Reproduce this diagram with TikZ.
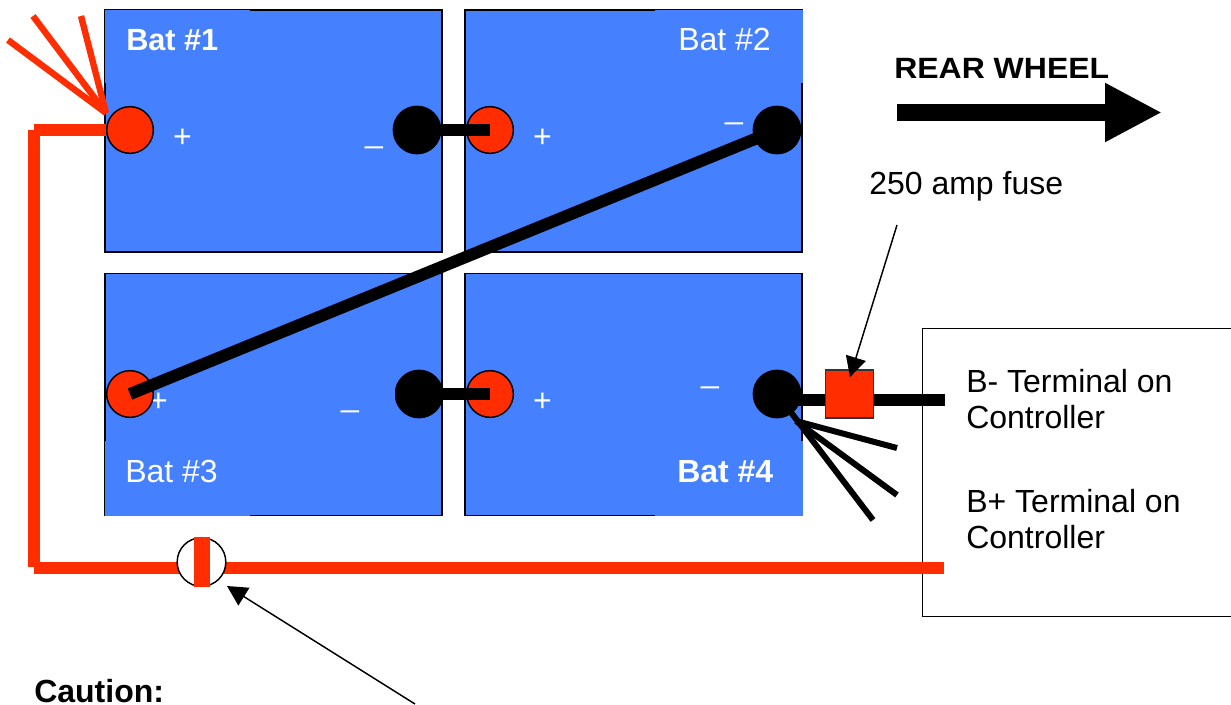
\documentclass[tikz,border=0pt]{standalone}
\usepackage{fontspec}
\setmainfont{Liberation Sans}
\usetikzlibrary{arrows.meta}
\definecolor{batblue}{RGB}{69,128,255}
\definecolor{wirered}{RGB}{255,45,0}
\tikzset{
  batbox/.style={draw=black,fill=batblue,line width=1.1pt,minimum width=252.75pt,minimum height=181.5pt,inner sep=0pt},
  posterm/.style={circle,draw=black,fill=wirered,line width=1.1pt,minimum size=35pt,inner sep=0pt},
  negterm/.style={circle,draw=black,fill=black,line width=1.1pt,minimum size=35.5pt,inner sep=0pt},
  redwire/.style={draw=wirered,line width=9pt},
  redfan/.style={draw=wirered,line width=4.8pt},
  blackwire/.style={draw=black,line width=9pt},
  blackfan/.style={draw=black,line width=4.5pt},
  thinarrow/.style={draw=black,line width=1.1pt,-{Triangle[length=15pt,width=15.5pt]}},
  lbl/.style={anchor=base west,inner sep=0pt,font=\fontsize{24}{27}\selectfont},
  batlbl/.style={lbl,text=white},
  signlbl/.style={anchor=center,inner sep=0pt,text=white,font=\fontsize{24}{27}\selectfont}
}
\begin{document}
\begin{tikzpicture}[x=.75pt,y=-.75pt]
\useasboundingbox (0,0) rectangle (1231,704);
\node[batbox] (bat1) at (273.5,131) {};
\node[batbox] (bat2) at (633.5,131) {};
\node[batbox] (bat3) at (273.5,394.5) {};
\node[batbox] (bat4) at (633.5,394.5) {};
\fill[batblue] (104.5,9.5) rectangle (250,83);
\fill[batblue] (655,9.5) rectangle (802.5,83);
\fill[batblue] (104.5,441) rectangle (250,515.5);
\fill[batblue] (655,441) rectangle (802.5,515.5);
\node[batlbl,font=\fontsize{23}{27}\selectfont\bfseries] (lab1) at (126,50) {Bat \#1};
\node[batlbl] (lab2) at (678,50) {Bat \#2};
\node[batlbl] (lab3) at (125,482) {Bat \#3};
\node[batlbl,font=\fontsize{24}{27}\selectfont\bfseries] (lab4) at (677,482) {Bat \#4};
\node[signlbl] (plus1) at (182.5,138) {+};
\node[signlbl] (plus2) at (542.5,138) {+};
\node[signlbl] (plus3) at (158.5,402) {+};
\node[signlbl] (plus4) at (542.5,402) {+};
\node[signlbl] (minus1) at (374,146) {\symbol{95}};
\node[signlbl] (minus2) at (734,122) {\symbol{95}};
\node[signlbl] (minus3) at (350,410) {\symbol{95}};
\node[signlbl] (minus4) at (710,386) {\symbol{95}};
\node[posterm] (pos1) at (130,130) {};
\node[negterm] (neg1) at (417,130) {};
\node[posterm] (pos2) at (490,130) {};
\node[negterm] (neg2) at (777,130) {};
\node[posterm] (pos3) at (130,394) {};
\node[negterm] (neg3) at (419,394) {};
\node[posterm] (pos4) at (490,394) {};
\node[negterm] (neg4) at (777,394) {};
\fill[batblue] (388,374) rectangle (395,414);
\draw[blackwire] (neg1.center) -- (pos2.center);
\draw[blackwire] (neg3.center) -- (pos4.center);
\draw[blackwire] (neg2.center) -- (pos3.center);
\node[draw=black,line width=1.1pt,fill=white,minimum width=233pt,minimum height=216pt,anchor=north west,inner sep=0pt] (ctrl) at (921.5,328) {};
\coordinate (redin) at (33.5,130);
\coordinate (redcorner) at (33.5,568);
\coordinate (redend) at (944,568);
\coordinate (fana) at (8,40);
\coordinate (fanb) at (33,16);
\coordinate (fanc) at (81,16);
\coordinate (fanroot) at (106,113);
\draw[redwire] (redin) -- (pos1.west);
\draw[redwire] (redin) -- (33.5,567);
\draw[redwire] (redcorner) -- (redend);
\draw[redfan] (fanroot) -- (fana);
\draw[redfan] (fanroot) -- (fanb);
\draw[redfan] (fanroot) -- (fanc);
\node[circle,draw=black,fill=white,line width=1.1pt,minimum size=36.5pt,inner sep=0pt] (breaker) at (201.5,562) {};
\draw[draw=wirered,line width=12pt] (breaker.north) -- (breaker.south);
\coordinate (bminus) at (945,400);
\coordinate (fand) at (897,448);
\coordinate (fane) at (897,495);
\coordinate (fanf) at (873,520);
\coordinate (fanrootb) at (796,421);
\draw[blackwire] (neg4 |- bminus) -- (bminus);
\draw[blackfan] (fanrootb) -- (fand);
\draw[blackfan] (fanrootb) -- (fane);
\draw[blackfan] (neg4.center) -- (fanf);
\node[draw=black!80,fill=wirered,line width=1.1pt,minimum size=36pt,inner sep=0pt] (fuse) at (849.5,394) {};
\node[lbl] (fuselbl) at (869,194) {250 amp fuse};
\node[lbl,xscale=1.09,font=\fontsize{22}{26}\selectfont\bfseries] (rear) at (894,78) {REAR WHEEL};
\node[lbl,align=left] (bmlbl) at (966,428) {B- Terminal on\\Controller};
\node[lbl,align=left] (bplbl) at (966,548) {B+ Terminal on\\Controller};
\node[lbl,font=\fontsize{24}{27}\selectfont\bfseries] (caution) at (34,702) {Caution:};
\coordinate (fusefrom) at (897,225);
\coordinate (fusetip) at (850,377);
\coordinate (brkfrom) at (415,704);
\coordinate (brktip) at (227,586);
\coordinate (rearfrom) at (897,112.5);
\coordinate (reartip) at (1162,112.5);
\draw[thinarrow] (fusefrom) -- (fusetip);
\draw[thinarrow] (brkfrom) -- (brktip);
\draw[draw=black,line width=12.75pt,-{Triangle[length=42.75pt,width=41.25pt]}] (rearfrom) -- (reartip);
\end{tikzpicture}
\end{document}
